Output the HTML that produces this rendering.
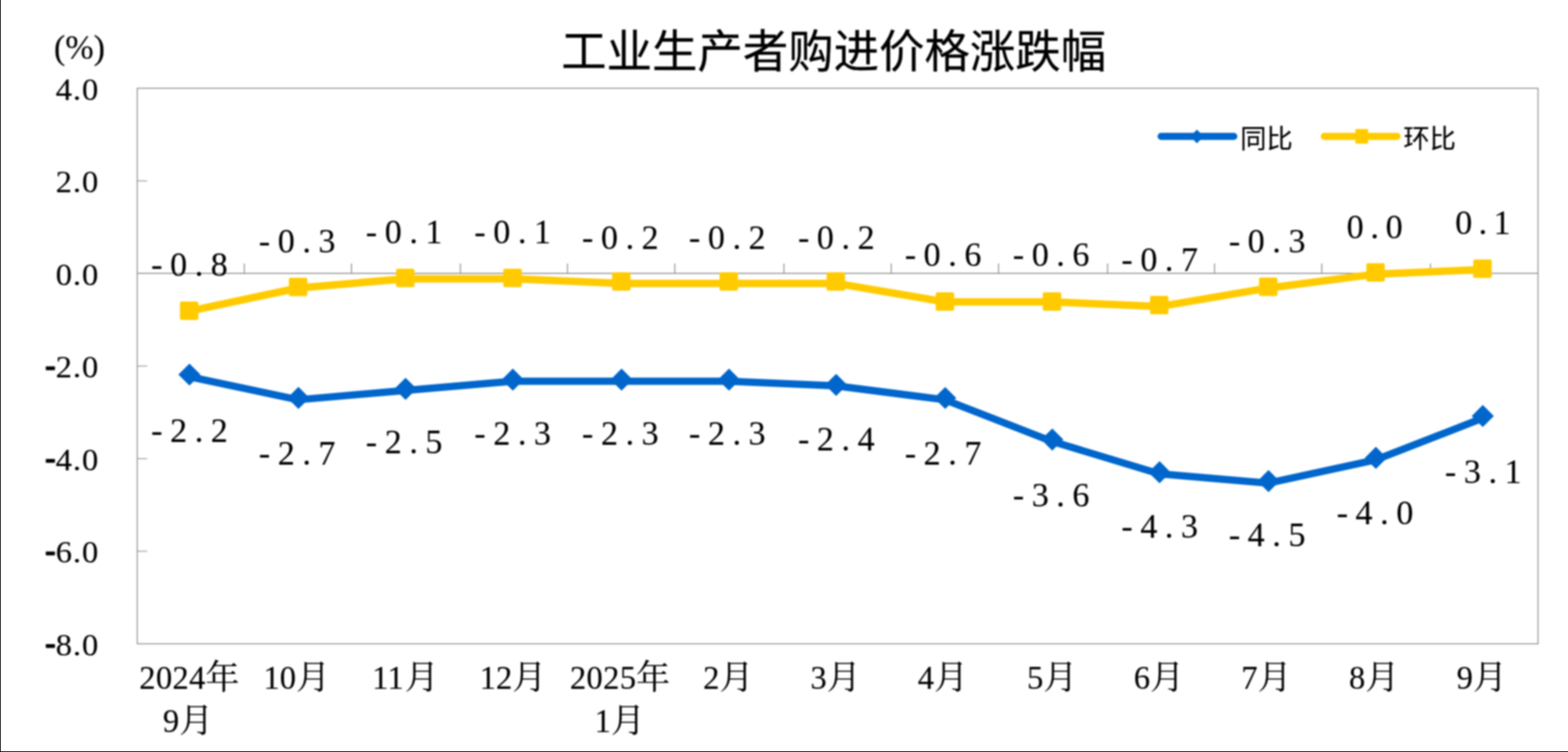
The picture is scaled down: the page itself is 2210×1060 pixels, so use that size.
<!DOCTYPE html>
<html lang="zh"><head><meta charset="utf-8"><title>工业生产者购进价格涨跌幅</title>
<style>html,body{margin:0;padding:0;background:#fff;width:2210px;height:1060px;overflow:hidden}svg{display:block}text{font-family:"Liberation Serif",serif}</style>
</head><body><svg width="2210" height="1060" viewBox="0 0 2210 1060" role="img" aria-label="工业生产者购进价格涨跌幅"><defs><filter id="soft" color-interpolation-filters="sRGB" filterUnits="userSpaceOnUse" x="-8" y="-8" width="2226" height="1076"><feGaussianBlur stdDeviation="1"/></filter></defs><g filter="url(#soft)"><rect x="-8" y="-8" width="2226" height="1076" fill="#fff"/><g stroke="#7a7a7a" stroke-width="1.2" fill="none"><rect x="193.5" y="124.45" width="1974.2" height="783.0"/><path d="M193.5 385.45H2167.7"/><path d="M193.5 255.0h14M193.5 516.0h14M193.5 646.5h14M193.5 777.0h14M344.4 371.4V384.8M495.4 371.4V384.8M648.9 371.4V384.8M799.8 371.4V384.8M951.1 371.4V384.8M1104.9 371.4V384.8M1256.2 371.4V384.8M1407.4 371.4V384.8M1561.1 371.4V384.8M1711.8 371.4V384.8M1863.0 371.4V384.8M2016.2 371.4V384.8"/></g><g font-family="'Liberation Serif', serif" font-size="46" fill="#000" stroke="#000" stroke-width="0.15"><text x="76" y="82.5" font-size="48">(%)</text><text x="138.6" y="0" transform="translate(0 140.7) scale(1 0.965)" text-anchor="end" textLength="60" lengthAdjust="spacing">4.0</text><text x="138.6" y="0" transform="translate(0 271.2) scale(1 0.965)" text-anchor="end" textLength="60" lengthAdjust="spacing">2.0</text><text x="138.6" y="0" transform="translate(0 401.7) scale(1 0.965)" text-anchor="end" textLength="60" lengthAdjust="spacing">0.0</text><text x="138.6" y="0" transform="translate(0 532.2) scale(1 0.965)" text-anchor="end" textLength="60" lengthAdjust="spacing">2.0</text><rect x="64.6" y="516.4" width="12.8" height="5.4" rx="0.8"/><text x="138.6" y="0" transform="translate(0 662.7) scale(1 0.965)" text-anchor="end" textLength="60" lengthAdjust="spacing">4.0</text><rect x="64.6" y="646.9" width="12.8" height="5.4" rx="0.8"/><text x="138.6" y="0" transform="translate(0 793.2) scale(1 0.965)" text-anchor="end" textLength="60" lengthAdjust="spacing">6.0</text><rect x="64.6" y="777.4" width="12.8" height="5.4" rx="0.8"/><text x="138.6" y="0" transform="translate(0 923.7) scale(1 0.965)" text-anchor="end" textLength="60" lengthAdjust="spacing">8.0</text><rect x="64.6" y="907.9" width="12.8" height="5.4" rx="0.8"/></g><text x="1175" y="94.5" font-size="64" text-anchor="middle" fill="#000" stroke="#000" stroke-width="0.35" style="font-family:'Liberation Sans','Noto Sans CJK SC',sans-serif">工业生产者购进价格涨跌幅</text><polyline points="266.6,438.6 420.2,406.0 571.2,392.9 722.4,392.9 875.7,399.4 1027.1,399.4 1178.1,399.4 1331.8,425.5 1482.7,425.5 1633.9,432.1 1787.5,406.0 1938.8,386.4 2089.5,379.9" fill="none" stroke="#ffcb00" stroke-width="10.5" stroke-linejoin="round" stroke-linecap="round"/><rect x="253.6" y="424.9" width="26" height="26" rx="2.5" fill="#ffcb00"/><rect x="407.2" y="391.4" width="26" height="26" rx="2.5" fill="#ffcb00"/><rect x="558.2" y="378.8" width="26" height="26" rx="2.5" fill="#ffcb00"/><rect x="709.4" y="378.8" width="26" height="26" rx="2.5" fill="#ffcb00"/><rect x="862.7" y="383.8" width="26" height="26" rx="2.5" fill="#ffcb00"/><rect x="1014.1" y="383.8" width="26" height="26" rx="2.5" fill="#ffcb00"/><rect x="1165.1" y="383.8" width="26" height="26" rx="2.5" fill="#ffcb00"/><rect x="1318.8" y="411.9" width="26" height="26" rx="2.5" fill="#ffcb00"/><rect x="1469.7" y="411.9" width="26" height="26" rx="2.5" fill="#ffcb00"/><rect x="1620.9" y="416.9" width="26" height="26" rx="2.5" fill="#ffcb00"/><rect x="1774.5" y="391.3" width="26" height="26" rx="2.5" fill="#ffcb00"/><rect x="1925.8" y="371.0" width="26" height="26" rx="2.5" fill="#ffcb00"/><rect x="2076.5" y="365.8" width="26" height="26" rx="2.5" fill="#ffcb00"/><polyline points="266.6,530.9 420.2,563.5 571.2,550.4 722.4,537.4 875.7,537.4 1027.1,537.4 1178.1,543.9 1331.8,563.5 1482.7,622.2 1633.9,667.9 1787.5,680.9 1938.8,648.3 2089.5,589.6" fill="none" stroke="#0066cc" stroke-width="10.2" stroke-linejoin="round" stroke-linecap="round"/><path d="M251.4 528.0L267.0 512.4L282.6 528.0L267.0 543.6ZM405.0 560.9L420.6 545.3L436.2 560.9L420.6 576.5ZM556.0 548.1L571.6 532.5L587.2 548.1L571.6 563.7ZM707.2 535.2L722.8 519.6L738.4 535.2L722.8 550.8ZM860.5 535.2L876.1 519.6L891.7 535.2L876.1 550.8ZM1011.9 535.2L1027.5 519.6L1043.1 535.2L1027.5 550.8ZM1162.9 542.6L1178.5 527.0L1194.1 542.6L1178.5 558.2ZM1316.6 561.0L1332.2 545.4L1347.8 561.0L1332.2 576.6ZM1467.5 619.6L1483.1 604.0L1498.7 619.6L1483.1 635.2ZM1618.7 665.7L1634.3 650.1L1649.9 665.7L1634.3 681.3ZM1772.3 678.2L1787.9 662.6L1803.5 678.2L1787.9 693.8ZM1923.6 645.4L1939.2 629.8L1954.8 645.4L1939.2 661.0ZM2074.3 586.4L2089.9 570.8L2105.5 586.4L2089.9 602.0Z" fill="#0066cc"/><g font-family="'Liberation Serif', serif" font-size="48" fill="#000" stroke="#000" stroke-width="0.15"><text x="213.1" y="388.6" textLength="108" lengthAdjust="spacing">-0.8</text><text x="364.8" y="355.9" textLength="108" lengthAdjust="spacing">-0.3</text><text x="515.6" y="343.4" textLength="108" lengthAdjust="spacing">-0.1</text><text x="668.6" y="343.4" textLength="108" lengthAdjust="spacing">-0.1</text><text x="820.3" y="351.2" textLength="108" lengthAdjust="spacing">-0.2</text><text x="971.1" y="351.2" textLength="108" lengthAdjust="spacing">-0.2</text><text x="1124.7" y="351.2" textLength="108" lengthAdjust="spacing">-0.2</text><text x="1275.2" y="375.2" textLength="108" lengthAdjust="spacing">-0.6</text><text x="1427.5" y="375.2" textLength="108" lengthAdjust="spacing">-0.6</text><text x="1580.5" y="381.5" textLength="108" lengthAdjust="spacing">-0.7</text><text x="1731.9" y="355.9" textLength="108" lengthAdjust="spacing">-0.3</text><text x="1898" y="335.5" textLength="79" lengthAdjust="spacing">0.0</text><text x="2051" y="330.3" textLength="78" lengthAdjust="spacing">0.1</text><text x="213.1" y="622.5" textLength="108" lengthAdjust="spacing">-2.2</text><text x="364.8" y="654.9" textLength="108" lengthAdjust="spacing">-2.7</text><text x="515.6" y="639.3" textLength="108" lengthAdjust="spacing">-2.5</text><text x="668.6" y="627.1" textLength="108" lengthAdjust="spacing">-2.3</text><text x="820.3" y="626.8" textLength="108" lengthAdjust="spacing">-2.3</text><text x="971.1" y="626.8" textLength="108" lengthAdjust="spacing">-2.3</text><text x="1124.7" y="634.6" textLength="108" lengthAdjust="spacing">-2.4</text><text x="1275.2" y="654.9" textLength="108" lengthAdjust="spacing">-2.7</text><text x="1427.5" y="714.3" textLength="108" lengthAdjust="spacing">-3.6</text><text x="1580.5" y="758.0" textLength="108" lengthAdjust="spacing">-4.3</text><text x="1731.9" y="769.6" textLength="108" lengthAdjust="spacing">-4.5</text><text x="1883.9" y="739.3" textLength="108" lengthAdjust="spacing">-4.0</text><text x="2036.6" y="681.0" textLength="108" lengthAdjust="spacing">-3.1</text></g><line x1="1636.5" y1="192.3" x2="1739" y2="192.3" stroke="#0066cc" stroke-width="10" stroke-linecap="round"/><path d="M1677.4 192.3L1687 182.70000000000002L1696.6 192.3L1687 201.9Z" fill="#0066cc"/><line x1="1866.5" y1="192.3" x2="1969" y2="192.3" stroke="#ffcb00" stroke-width="10" stroke-linecap="round"/><rect x="1910.4" y="181.9" width="17.8" height="20.6" fill="#ffcb00"/><text x="1748" y="209" font-size="37" fill="#000" stroke="#000" stroke-width="0.2" style="font-family:'Liberation Sans','Noto Sans CJK SC',sans-serif">同比</text><text x="1978" y="209" font-size="37" fill="#000" stroke="#000" stroke-width="0.2" style="font-family:'Liberation Sans','Noto Sans CJK SC',sans-serif">环比</text><g font-family="'Liberation Serif', 'Noto Serif CJK SC', serif" fill="#000" stroke="#000" stroke-width="0.15"><text x="196.3" y="970.6" font-size="46" textLength="93.2">2024</text><text x="289.5" y="971.2" font-size="48" style="font-family:'Liberation Serif','Noto Serif CJK SC',serif">年</text><text x="229.5" y="1031.6" font-size="46">9</text><text x="252.5" y="1032.2" font-size="48" style="font-family:'Liberation Serif','Noto Serif CJK SC',serif">月</text><text x="371.2" y="970.6" font-size="46">10</text><text x="417.2" y="971.2" font-size="48" style="font-family:'Liberation Serif','Noto Serif CJK SC',serif">月</text><text x="524.6" y="970.6" font-size="46">11</text><text x="570.6" y="971.2" font-size="48" style="font-family:'Liberation Serif','Noto Serif CJK SC',serif">月</text><text x="676.0" y="970.6" font-size="46">12</text><text x="722.0" y="971.2" font-size="48" style="font-family:'Liberation Serif','Noto Serif CJK SC',serif">月</text><text x="803.2" y="970.6" font-size="46" textLength="93.2">2025</text><text x="896.4" y="971.2" font-size="48" style="font-family:'Liberation Serif','Noto Serif CJK SC',serif">年</text><text x="837.9" y="1031.6" font-size="46">1</text><text x="860.9" y="1032.2" font-size="48" style="font-family:'Liberation Serif','Noto Serif CJK SC',serif">月</text><text x="990.9" y="970.6" font-size="46">2</text><text x="1013.9" y="971.2" font-size="48" style="font-family:'Liberation Serif','Noto Serif CJK SC',serif">月</text><text x="1142.3" y="970.6" font-size="46">3</text><text x="1165.3" y="971.2" font-size="48" style="font-family:'Liberation Serif','Noto Serif CJK SC',serif">月</text><text x="1293.6" y="970.6" font-size="46">4</text><text x="1316.6" y="971.2" font-size="48" style="font-family:'Liberation Serif','Noto Serif CJK SC',serif">月</text><text x="1447.5" y="970.6" font-size="46">5</text><text x="1470.5" y="971.2" font-size="48" style="font-family:'Liberation Serif','Noto Serif CJK SC',serif">月</text><text x="1598.0" y="970.6" font-size="46">6</text><text x="1621.0" y="971.2" font-size="48" style="font-family:'Liberation Serif','Noto Serif CJK SC',serif">月</text><text x="1749.4" y="970.6" font-size="46">7</text><text x="1772.4" y="971.2" font-size="48" style="font-family:'Liberation Serif','Noto Serif CJK SC',serif">月</text><text x="1901.2" y="970.6" font-size="46">8</text><text x="1924.2" y="971.2" font-size="48" style="font-family:'Liberation Serif','Noto Serif CJK SC',serif">月</text><text x="2053.0" y="970.6" font-size="46">9</text><text x="2076.0" y="971.2" font-size="48" style="font-family:'Liberation Serif','Noto Serif CJK SC',serif">月</text></g></g><rect x="0" y="0" width="1" height="1060" fill="#000"/><rect x="0" y="1059" width="2210" height="1" fill="#000"/></svg></body></html>
